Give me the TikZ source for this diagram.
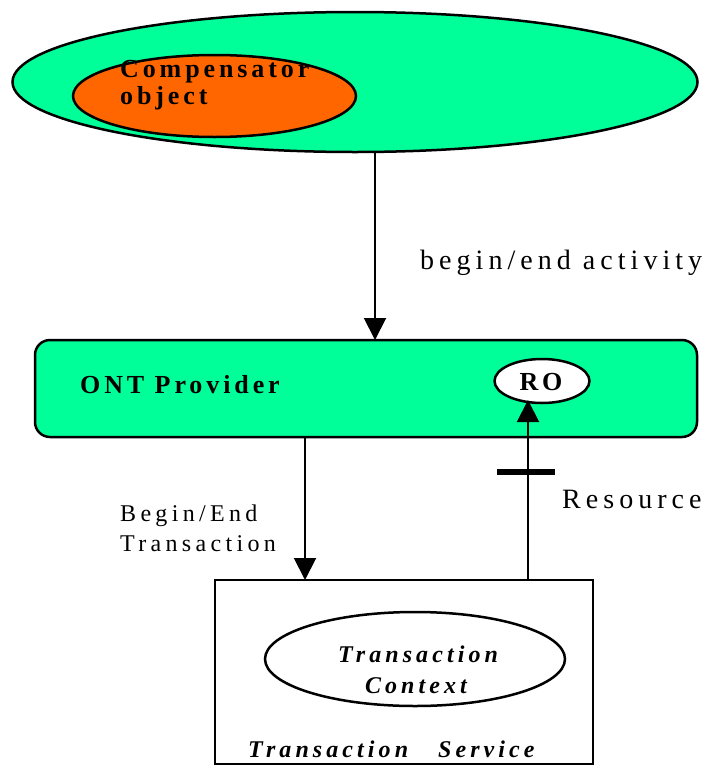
\documentclass[tikz,border=0pt]{standalone}
\usepackage{fontspec}
\setmainfont{Liberation Serif}
\newfontfamily\lblr[LetterSpace=18]{Liberation Serif}
\newfontfamily\lblb[LetterSpace=15]{Liberation Serif}
\newfontfamily\lbli[LetterSpace=17]{Liberation Serif}
\usetikzlibrary{arrows.meta,shapes.geometric}
\definecolor{grn}{RGB}{0,255,153}
\definecolor{org}{RGB}{255,102,0}
\begin{document}
\begin{tikzpicture}[x=1pt,y=-1pt,
  shp/.style={draw=black,line width=2.5pt,inner sep=0pt,outer sep=0pt},
  txt/.style={inner sep=0pt,anchor=base west,font=\lblr\fontsize{28}{32}\selectfont},
  stxt/.style={txt,font=\lblr\fontsize{24}{28}\selectfont},
  btxt/.style={txt,font=\lblb\fontsize{26}{30}\selectfont\bfseries},
  itxt/.style={txt,font=\lbli\fontsize{24}{28}\selectfont\bfseries\itshape},
  arr/.style={line width=2pt,-{Triangle[width=22pt,length=22pt]}}]
\useasboundingbox (0,0) rectangle (708,766);
% shapes
\node[shp,ellipse,fill=grn,minimum width=685pt,minimum height=140pt] (act) at (355,82) {};
\node[shp,ellipse,fill=org,minimum width=283pt,minimum height=82pt] (comp) at (214.5,96) {};
\node[shp,rectangle,rounded corners=15pt,fill=grn,minimum width=662pt,minimum height=97pt] (prov) at (366,388.5) {};
\node[shp,ellipse,fill=white,minimum width=95pt,minimum height=44pt] (ro) at (542,381) {};
\node[shp,rectangle,line width=2pt,fill=white,minimum width=378pt,minimum height=184pt] (ts) at (404,672) {};
\node[shp,ellipse,fill=white,minimum width=300pt,minimum height=94pt] (tc) at (415,659) {};
% texts
\node[btxt] (t1) at (120,77) {Compensator};
\node[btxt] (t2) at (120,104) {object};
\node[txt] (t3) at (420,269) {begin/end activity};
\node[btxt] (t4) at (80,393) {ONT Provider};
\node[btxt,anchor=base] (t5) at (541,390) {RO};
\node[txt] (t6) at (562,508) {Resource};
\node[stxt] (t7) at (120,521) {Begin/End};
\node[stxt] (t8) at (120,551) {Transaction};
\node[itxt,anchor=base] (t9) at (418,662) {Transaction};
\node[itxt,anchor=base] (t10) at (416,693) {Context};
\node[itxt] (t11) at (248,757) {Transaction\hspace{30pt}Service};
% connectors
\coordinate (xa) at (375,0);
\coordinate (xb) at (305,0);
\coordinate (xc) at (528,0);
\draw[arr] (act.south -| xa) -- (prov.north -| xa);
\draw[arr] (prov.south -| xb) -- (ts.north -| xb);
\draw[arr] (ts.north -| xc) -- ([yshift=3pt]ro.south -| xc);
\coordinate (bar1) at (497,472);
\coordinate (bar2) at (555,472);
\draw[line width=6pt] (bar1) -- (bar2);
\end{tikzpicture}
\end{document}
